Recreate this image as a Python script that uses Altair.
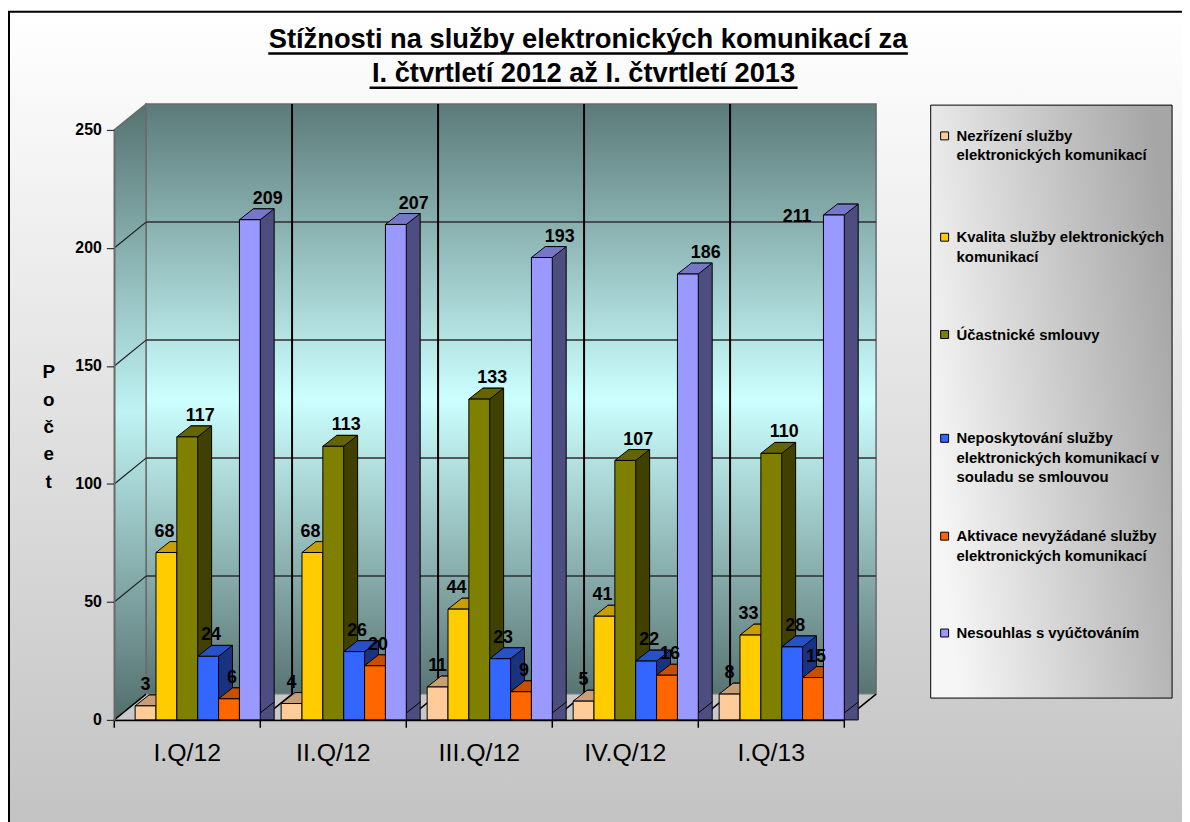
import altair as alt
import pandas as pd

# ---------------- data ----------------
quarters = ["I.Q/12", "II.Q/12", "III.Q/12", "IV.Q/12", "I.Q/13"]
series = [
    "Nezřízení služby elektronických komunikací",
    "Kvalita služby elektronických komunikací",
    "Účastnické smlouvy",
    "Neposkytování služby elektronických komunikací v souladu se smlouvou",
    "Aktivace nevyžádané služby elektronických komunikací",
    "Nesouhlas s vyúčtováním",
]
nezrizeni = [3, 4, 11, 5, 8]
kvalita = [68, 68, 44, 41, 33]
ucastnicke = [117, 113, 133, 107, 110]
neposkytovani = [24, 26, 23, 22, 28]
aktivace = [6, 20, 9, 16, 15]
nesouhlas = [209, 207, 193, 186, 211]
y_ticks = [0, 50, 100, 150, 200, 250]
legend_lines = [
    ["Nezřízení služby", "elektronických komunikací"],
    ["Kvalita služby elektronických", "komunikací"],
    ["Účastnické smlouvy"],
    ["Neposkytování služby", "elektronických komunikací v", "souladu se smlouvou"],
    ["Aktivace nevyžádané služby", "elektronických komunikací"],
    ["Nesouhlas s vyúčtováním"],
]
title_lines = ["Stížnosti na služby elektronických komunikací za",
               "I. čtvrtletí 2012 až I. čtvrtletí 2013"]
axis_title = "Počet"

values = [nezrizeni, kvalita, ucastnicke, neposkytovani, aktivace, nesouhlas]

# ---------------- styles ----------------
front_colors = ["#ffcc99", "#ffcc00", "#808000", "#3366ff", "#ff6600", "#9999ff"]
top_colors = ["#c79f77", "#c79f00", "#646400", "#2850c7", "#c75000", "#7777c7"]
side_colors = ["#806650", "#806600", "#404000", "#1a3380", "#803300", "#4d4d80"]
FONT = "Liberation Sans"

W, H = 735, 594           # plot area (front axis frame)
DX, DY = 32, -26          # wall depth
BD, BH = 14, -11          # bar depth
SHIFT = -7                # bars stand in the middle of the floor
BW = W / 35.0             # bar width (7 slots per quarter)
CENTER_SERIES = 2         # the slot in the middle of each quarter


def key_of(q, si):
    return q if si == CENTER_SERIES else f"{q}|{si}"


rows = []
for qi, q in enumerate(quarters):
    for si, s in enumerate(series):
        rows.append({"q": q, "s": s, "si": si, "v": values[si][qi], "key": key_of(q, si)})
df = pd.DataFrame(rows)
key_domain = []
for q in quarters:
    key_domain.append(f"{q}|g")
    key_domain += [key_of(q, si) for si in range(len(series))]

gaps = pd.DataFrame({"key": [f"{q}|g" for q in quarters]})
tdf = pd.DataFrame({"t": y_ticks})
one = pd.DataFrame({"n": [0]})

yscale = alt.Scale(domain=[0, 250], nice=False, zero=True)
kscale = alt.Scale(type="band", domain=key_domain, paddingInner=0, paddingOuter=0)

face_domain = [f"{f}{si}" for f in "fts" for si in range(len(series))]
face_range = front_colors + top_colors + side_colors
fscale = alt.Scale(domain=face_domain, range=face_range)

xaxis = alt.Axis(values=quarters, title=None, labelFont=FONT, labelFontSize=25,
                 labelColor="black", labelFontWeight="normal", labelAngle=0, ticks=False,
                 tickSize=0, labelPadding=21, domain=True, domainColor="black",
                 domainWidth=1.5, labels=True, zindex=2, grid=False)
yaxis = alt.Axis(values=y_ticks, title=None, grid=False, labelFont=FONT, labelFontSize=16,
                 labelFontWeight="bold", labelColor="black", labelPadding=5, tickSize=8,
                 ticks=True, tickColor="#333333", tickWidth=1.2, domain=True,
                 domainColor="#6a6a6a", domainWidth=1.5, labels=True, zindex=2)


def X_key(**kw):
    return alt.X("key:N", scale=kscale, axis=xaxis, **kw)


def Y_q(field):
    return alt.Y(field, scale=yscale, axis=yaxis)


def face_fill():
    return alt.Fill("fc:N", scale=fscale, legend=None)


def grad(stops, x1=0, y1=0, x2=0, y2=1):
    return alt.LinearGradient(
        gradient="linear",
        stops=[alt.GradientStop(offset=o, color=c) for o, c in stops],
        x1=x1, y1=y1, x2=x2, y2=y2,
    )


layers = []

# page background
layers.append(alt.Chart(one).mark_rect(
    fill=grad([(0, "#ffffff"), (1, "#c2c2c2")]), stroke="black", strokeWidth=2
).encode(x=alt.value(-106), x2=alt.value(1090), y=alt.value(-119), y2=alt.value(710)))

# back wall
layers.append(alt.Chart(one).mark_rect(
    fill=grad([(0, "#5b7b79"), (0.5, "#ccffff"), (1, "#587472")]),
    stroke="#6a6a6a", strokeWidth=1.5
).encode(x=alt.value(DX), x2=alt.value(W + DX), y=alt.value(DY), y2=alt.value(H + DY)))

# left wall
left_path = f"M0,0 L{DX},{DY} L{DX},{H + DY} L0,{H} Z"
layers.append(alt.Chart(one).mark_point(
    shape=left_path, size=4, filled=True, opacity=1,
    fill=grad([(0, "#557371"), (0.5, "#bff3f3"), (1, "#526e6c")]),
    stroke="#6a6a6a", strokeWidth=1.5
).encode(x=alt.value(0), y=alt.value(0)))

# floor
floor_path = f"M0,{H} L{DX},{H + DY} L{W + DX},{H + DY} L{W},{H} Z"
layers.append(alt.Chart(one).mark_point(
    shape=floor_path, size=4, filled=True, opacity=1, fill="#c8c8c8",
    stroke="#8a8a8a", strokeWidth=1
).encode(x=alt.value(0), y=alt.value(0)))

# gridlines on back wall
inner_ticks = tdf[(tdf.t > 0) & (tdf.t < 250)]
layers.append(alt.Chart(inner_ticks).mark_rule(
    yOffset=DY, color="#2e2e2e", strokeWidth=1.5
).encode(y=Y_q("t:Q"), x=alt.value(DX), x2=alt.value(W + DX)))
# gridlines on left wall
layers.append(alt.Chart(inner_ticks).mark_point(
    shape=f"M0,0 L{DX},{DY}", size=4, filled=False, opacity=1,
    stroke="#1e1e1e", strokeWidth=1.2
).encode(y=Y_q("t:Q"), x=alt.value(0)))

# vertical category lines on back wall
layers.append(alt.Chart(gaps.iloc[1:]).mark_rule(
    xOffset=DX, color="black", strokeWidth=2
).encode(x=X_key(bandPosition=0), y=alt.value(DY), y2=alt.value(H + DY)))

# floor division lines + ticks
div_path = f"M0,8 L0,0 L{DX},{DY}"
layers.append(alt.Chart(gaps).mark_point(
    shape=div_path, size=4, filled=False, opacity=1, stroke="black", strokeWidth=1.5
).encode(x=X_key(bandPosition=0), y=alt.value(H)))
layers.append(alt.Chart(df.iloc[-1:]).mark_point(
    shape=div_path, size=4, filled=False, opacity=1, stroke="black", strokeWidth=1.5
).encode(x=X_key(bandPosition=1), y=alt.value(H)))

# ---- 3D bars ----
# side faces
layers.append(alt.Chart(df).transform_calculate(fc="'s' + datum.si").mark_bar(
    xOffset=BD, x2Offset=BD, yOffset=SHIFT + BH, y2Offset=SHIFT + BH,
    stroke="black", strokeWidth=1
).encode(
    x=X_key(),
    y=alt.Y("v:Q", scale=yscale, axis=yaxis, stack=False),
    fill=face_fill(),
))
# lower part of side faces
hb = BW / 2
bottom_path = f"M{hb},{BH - 0.6} L{hb},0 L{hb + BD},{BH} L{hb + BD},{BH - 0.6}"
layers.append(alt.Chart(df).transform_calculate(fc="'s' + datum.si", zero="0").mark_point(
    shape=bottom_path, size=4, filled=True, opacity=1, stroke="black", strokeWidth=1,
    yOffset=SHIFT
).encode(
    x=X_key(),
    y=Y_q("zero:Q"),
    fill=face_fill(),
))
# top faces
top_path = f"M{-hb},0 L{hb},0 L{hb + BD},{BH} L{-hb + BD},{BH} Z"
layers.append(alt.Chart(df).transform_calculate(fc="'t' + datum.si").mark_point(
    shape=top_path, size=4, filled=True, opacity=1, stroke="black", strokeWidth=1,
    yOffset=SHIFT
).encode(
    x=X_key(),
    y=Y_q("v:Q"),
    fill=face_fill(),
))
# front faces
layers.append(alt.Chart(df).transform_calculate(fc="'f' + datum.si").mark_bar(
    yOffset=SHIFT, y2Offset=SHIFT, stroke="black", strokeWidth=1
).encode(
    x=X_key(),
    y=alt.Y("v:Q", scale=yscale, axis=yaxis, stack=False),
    fill=face_fill(),
))

# value labels
label_dx = [0, -2, 13, 3, 3, 18]
for si, s in enumerate(series):
    sub = df[df.s == s]
    if si == len(series) - 1:
        last = sub[sub.q == quarters[-1]]
        sub = sub[sub.q != quarters[-1]]
        layers.append(alt.Chart(last).mark_text(
            font=FONT, fontSize=18, fontWeight="bold", color="black",
            baseline="alphabetic", align="center", dx=-37, dy=0
        ).encode(x=X_key(), y=Y_q("v:Q"), text="v:Q"))
    layers.append(alt.Chart(sub).mark_text(
        font=FONT, fontSize=18, fontWeight="bold", color="black",
        baseline="alphabetic", align="center", dx=label_dx[si], dy=-23
    ).encode(x=X_key(), y=Y_q("v:Q"), text="v:Q"))

# vertical axis title, letter by letter
for i, ch in enumerate(axis_title):
    layers.append(alt.Chart(one).mark_text(
        text=ch, font=FONT, fontSize=19, fontWeight="bold", color="black",
        align="center", baseline="middle"
    ).encode(x=alt.value(-66), y=alt.value(244 + i * 27.5)))

# chart title with underline
title_pos = [(477, -82, 155, 799, -77), (472.5, -48, 257, 688, -42.5)]
for line, (tx, ty, ux1, ux2, uy) in zip(title_lines, title_pos):
    layers.append(alt.Chart(one).mark_text(
        text=line, font=FONT, fontSize=27.5, fontWeight="bold", color="black",
        align="center", baseline="alphabetic"
    ).encode(x=alt.value(tx), y=alt.value(ty)))
    layers.append(alt.Chart(one).mark_rule(color="black", strokeWidth=2.5).encode(
        x=alt.value(ux1), x2=alt.value(ux2), y=alt.value(uy)))

# legend box
layers.append(alt.Chart(one).mark_rect(
    fill=grad([(0, "#f6f6f6"), (1, "#a6a6a6")], x1=0, y1=0.6, x2=1, y2=0.3),
    stroke="black", strokeWidth=1
).encode(x=alt.value(822), x2=alt.value(1065), y=alt.value(-25), y2=alt.value(572)))

legend_y = [6, 108, 206, 310.5, 409, 506.5]
LH = 19.5
for i, lines in enumerate(legend_lines):
    layers.append(alt.Chart(one).mark_point(
        shape="square", size=64, filled=True, opacity=1, fill=front_colors[i],
        stroke="black", strokeWidth=1
    ).encode(x=alt.value(836), y=alt.value(legend_y[i])))
    for j, line in enumerate(lines):
        layers.append(alt.Chart(one).mark_text(
            text=line, font=FONT, fontSize=15, fontWeight="bold", color="black",
            align="left", baseline="middle"
        ).encode(x=alt.value(848), y=alt.value(legend_y[i] + j * LH)))

chart = alt.layer(*layers).properties(
    width=W, height=H,
    autosize=alt.AutoSizeParams(type="none"),
    padding={"left": 107, "top": 120, "right": 340, "bottom": 100},
    background="white",
).configure_view(strokeWidth=0)

chart.save("out.html", embed_options={"renderer": "svg", "actions": False})
